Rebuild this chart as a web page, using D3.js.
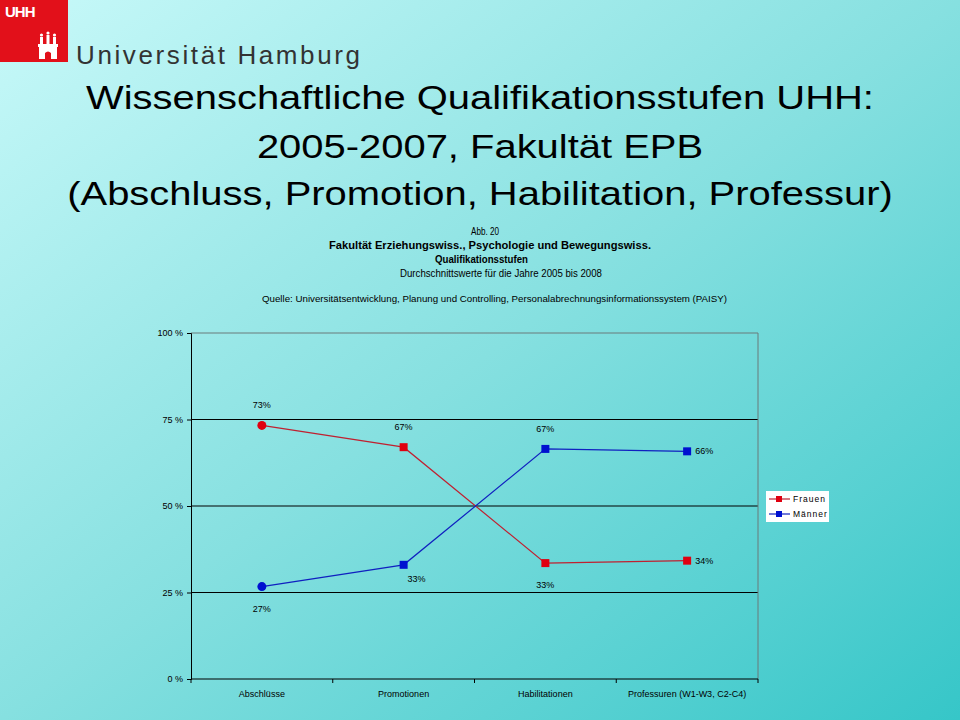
<!DOCTYPE html>
<html><head><meta charset="utf-8">
<script src="https://cdn.jsdelivr.net/npm/d3@7"></script>
<style>body{margin:0;overflow:hidden}svg{display:block}text{font-family:"Liberation Sans",Arial,sans-serif}</style>
</head><body>
<svg id="c" width="960" height="720"></svg>
<script>
const categories = ["Abschlüsse","Promotionen","Habilitationen","Professuren (W1-W3, C2-C4)"];
const frauen = [73.3, 67.0, 33.5, 34.2];
const maenner = [26.7, 33.0, 66.5, 65.8];
const frauenLabels = ["73%","67%","33%","34%"];
const maennerLabels = ["27%","33%","67%","66%"];
const yTicks = [0,25,50,75,100];
const titleLines = ["Wissenschaftliche Qualifikationsstufen UHH:","2005-2007, Fakultät EPB","(Abschluss, Promotion, Habilitation, Professur)"];
const chartHead = ["Abb. 20","Fakultät Erziehungswiss., Psychologie und Bewegungswiss.","Qualifikationsstufen","Durchschnittswerte für die Jahre 2005 bis 2008"];
const sourceText = "Quelle: Universitätsentwicklung, Planung und Controlling, Personalabrechnungsinformationssystem (PAISY)";

const svg = d3.select("#c");
const defs = svg.append("defs");
const g = defs.append("linearGradient").attr("id","bg").attr("x1","0").attr("y1","0").attr("x2","1").attr("y2","1");
g.append("stop").attr("offset","0").attr("stop-color","#c8f9f9");
g.append("stop").attr("offset","0.5").attr("stop-color","#86e0e0");
g.append("stop").attr("offset","1").attr("stop-color","#36c6c8");
svg.append("rect").attr("width",960).attr("height",720).attr("fill","url(#bg)");

// Logo
svg.append("rect").attr("x",0).attr("y",0).attr("width",68).attr("height",62).attr("fill","#e2101a");
svg.append("text").attr("x",5).attr("y",17).attr("fill","#fff").attr("font-size",15).attr("font-weight","bold").attr("letter-spacing",-1).text("UHH");
const castle = svg.append("g").attr("fill","#fff");
castle.append("path").attr("d","M39,46 L39,59 L45,59 L45,53 Q48,50 51,53 L51,59 L57,59 L57,46 Z");
castle.append("rect").attr("x",38).attr("y",44).attr("width",20).attr("height",3);
castle.append("rect").attr("x",40).attr("y",37).attr("width",3).attr("height",7);
castle.append("rect").attr("x",46.5).attr("y",35).attr("width",3).attr("height",9);
castle.append("rect").attr("x",53).attr("y",37).attr("width",3).attr("height",7);
castle.append("circle").attr("cx",41.5).attr("cy",35).attr("r",1.6);
castle.append("circle").attr("cx",48).attr("cy",33).attr("r",1.6);
castle.append("circle").attr("cx",54.5).attr("cy",35).attr("r",1.6);
svg.append("text").attr("x",76).attr("y",64).attr("fill","#333").attr("font-size",26)
  .attr("font-family","Open Sans").attr("textLength",284).attr("lengthAdjust","spacing").text("Universität Hamburg");

// Title (slide text is horizontally stretched)
const tg = svg.append("g").attr("transform","translate(480,0) scale(1.175,1)");
tg.selectAll("text.title").data(titleLines).join("text").attr("class","title")
  .attr("x",0).attr("y",(d,i)=>[109,158,205][i]).attr("text-anchor","middle")
  .attr("font-size",34).attr("fill","#000").text(d=>d);

const headSpans = [[471,499],[329,651],[435,528],[400,602]];
svg.selectAll("text.head").data(chartHead).join("text").attr("class","head")
  .attr("x",(d,i)=>headSpans[i][0]).attr("y",(d,i)=>[235,249,263,277][i])
  .attr("textLength",(d,i)=>headSpans[i][1]-headSpans[i][0]).attr("lengthAdjust","spacingAndGlyphs")
  .attr("font-size",10).attr("font-weight",(d,i)=>i===1||i===2?"bold":"normal").text(d=>d);
svg.append("text").attr("x",262).attr("y",302).attr("textLength",465).attr("lengthAdjust","spacingAndGlyphs")
  .attr("font-size",9.5).text(sourceText);

// Chart
const L=191,R=758,T=333,B=679;
const x = d3.scaleBand().domain(categories).range([L,R]);
const y = d3.scaleLinear().domain([0,100]).range([B,T]);

svg.append("g").selectAll("line").data(yTicks.filter(d=>d>0&&d<100)).join("line")
  .attr("x1",L).attr("x2",R).attr("y1",d=>y(d)).attr("y2",d=>y(d)).attr("stroke","#000").attr("stroke-width",1);
svg.append("line").attr("x1",L).attr("x2",R).attr("y1",y(100)).attr("y2",y(100)).attr("stroke","#6a7a7a");
svg.append("line").attr("x1",R).attr("x2",R).attr("y1",T).attr("y2",B).attr("stroke","#6a7a7a");

const yAxis = svg.append("g").attr("transform",`translate(${L},0)`)
  .call(d3.axisLeft(y).tickValues(yTicks).tickFormat(d=>d+" %").tickSize(4));
yAxis.select(".domain").attr("stroke","#000");
yAxis.selectAll("text").attr("font-size",9).attr("font-family","Liberation Sans").attr("dx",-1);

const xAxis = svg.append("g").attr("transform",`translate(0,${B})`)
  .call(d3.axisBottom(x).tickSize(0).tickPadding(12));
xAxis.select(".domain").attr("stroke","#000").attr("d",`M${L},0H${R}`);
xAxis.selectAll("text").attr("font-size",9).attr("font-family","Liberation Sans");
svg.append("g").selectAll("line").data(d3.range(categories.length+1)).join("line")
  .attr("x1",i=>L+i*x.bandwidth()).attr("x2",i=>L+i*x.bandwidth()).attr("y1",B).attr("y2",B+4).attr("stroke","#000");

const cx = c=>x(c)+x.bandwidth()/2;
const series = [
  {name:"Frauen",vals:frauen,labels:frauenLabels,line:"#c02030",mark:"#e00010",pos:["above","above","below","right"]},
  {name:"Männer",vals:maenner,labels:maennerLabels,line:"#1020c0",mark:"#0010d0",pos:["below","belowright","above","right"]}
];
const line = d3.line().x(d=>cx(d.c)).y(d=>y(d.v));
series.forEach(s=>{
  const pts = categories.map((c,i)=>({c,v:s.vals[i],l:s.labels[i],p:s.pos[i],i}));
  svg.append("path").datum(pts).attr("d",line).attr("fill","none").attr("stroke",s.line).attr("stroke-width",1.2);
  const gm = svg.append("g");
  gm.selectAll("rect").data(pts.filter(d=>d.i>0)).join("rect")
    .attr("x",d=>cx(d.c)-4).attr("y",d=>y(d.v)-4).attr("width",8).attr("height",8).attr("fill",s.mark);
  gm.selectAll("circle").data(pts.filter(d=>d.i===0)).join("circle")
    .attr("cx",d=>cx(d.c)).attr("cy",d=>y(d.v)).attr("r",4.5).attr("fill",s.mark);
  svg.append("g").selectAll("text").data(pts).join("text")
    .attr("font-size",9).attr("font-family","Liberation Sans")
    .attr("x",d=>cx(d.c)+(d.p==="right"?8:d.p==="belowright"?13:0))
    .attr("y",d=>y(d.v)+(d.p==="above"?-17:d.p==="below"?25:d.p==="belowright"?17:3))
    .attr("text-anchor",d=>d.p==="right"?"start":"middle").text(d=>d.l);
});

// Legend
const lg = svg.append("g").attr("transform","translate(766,491)");
lg.append("rect").attr("width",63).attr("height",31).attr("fill","#fff");
series.forEach((s,i)=>{
  const yy = 8+i*15;
  lg.append("line").attr("x1",3).attr("x2",24).attr("y1",yy).attr("y2",yy).attr("stroke",s.line).attr("stroke-width",1.2);
  lg.append("rect").attr("x",10).attr("y",yy-3).attr("width",6).attr("height",6).attr("fill",s.mark);
  lg.append("text").attr("x",27).attr("y",yy+3).attr("font-size",8.5).attr("letter-spacing",1).text(s.name);
});
</script>
</body></html>
